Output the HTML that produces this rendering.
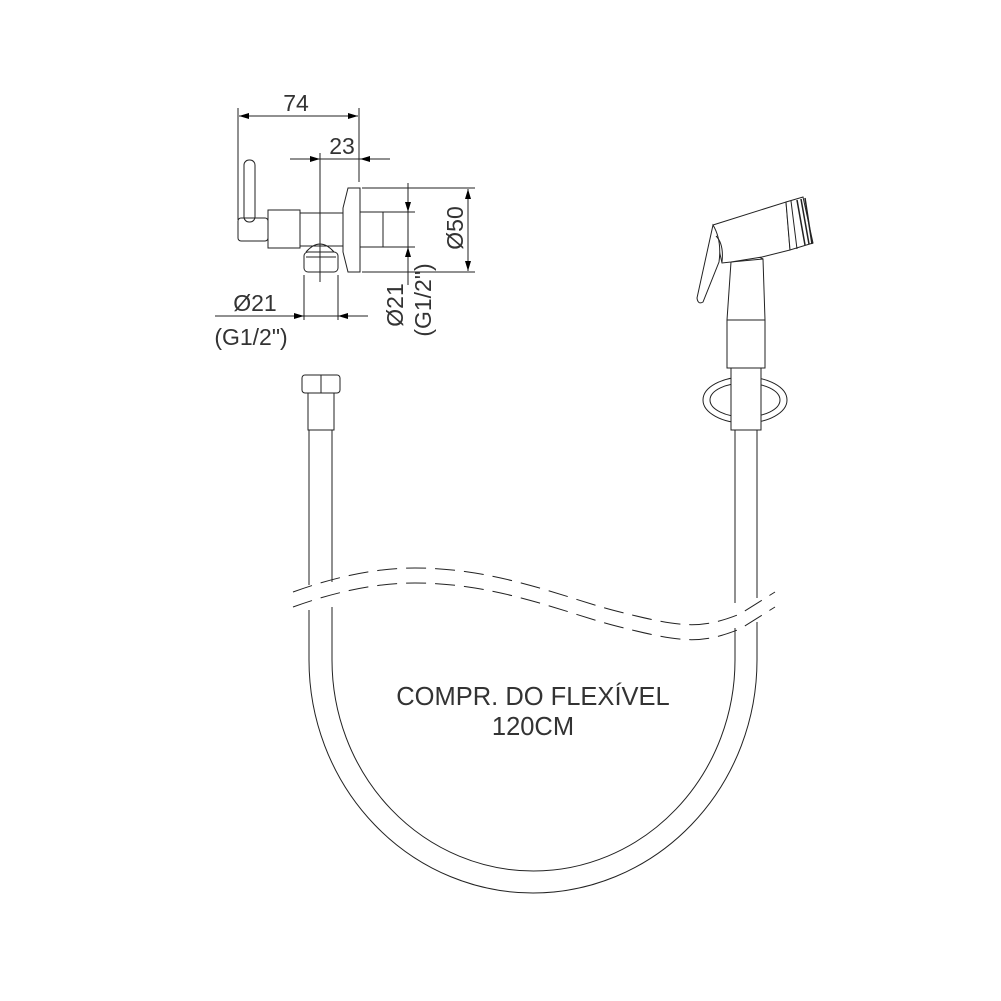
<!DOCTYPE html>
<html><head><meta charset="utf-8"><style>
html,body{margin:0;padding:0;background:#fff;}
svg{display:block;}
text{font-family:"Liberation Sans",sans-serif;fill:#333;}
</style></head><body>
<svg width="1001" height="1001" viewBox="0 0 1001 1001" xmlns="http://www.w3.org/2000/svg">
<defs>
<marker id="a" viewBox="0 0 10 6" refX="10" refY="3" markerWidth="10" markerHeight="6" orient="auto-start-reverse" markerUnits="userSpaceOnUse"><path d="M0,0 L10,3 L0,6Z" fill="#000"/></marker>
</defs>
<g fill="none" stroke="#222" stroke-width="1">
<line x1="238" y1="108" x2="238" y2="220"/>
<line x1="359" y1="108" x2="359" y2="182"/>
<line x1="239" y1="116" x2="358" y2="116" marker-start="url(#a)" marker-end="url(#a)"/>
<line x1="290" y1="159" x2="320" y2="159" marker-end="url(#a)"/>
<line x1="390" y1="159" x2="360" y2="159" marker-end="url(#a)"/>
<line x1="320" y1="159" x2="360" y2="159"/>
<line x1="320" y1="153" x2="320" y2="282"/>
<rect x="244" y="160" width="11" height="62" rx="5"/>
<rect x="238" y="218" width="30" height="23" rx="3"/>
<rect x="268" y="210" width="32" height="38"/>
<rect x="300" y="213" width="43" height="33"/>
<polygon points="348,188 360,188 360,272 348,272 343,252 343,208"/>
<rect x="360" y="212" width="23" height="35"/>
<path d="M306,252 Q320,236 334,252"/>
<rect x="304" y="252" width="34" height="20" rx="4"/>
<line x1="306" y1="257" x2="336" y2="257"/>
<line x1="362" y1="188" x2="475" y2="188"/>
<line x1="362" y1="272" x2="475" y2="272"/>
<line x1="468" y1="189" x2="468" y2="271" marker-start="url(#a)" marker-end="url(#a)"/>
<line x1="383" y1="212" x2="415" y2="212"/>
<line x1="383" y1="247" x2="415" y2="247"/>
<line x1="408" y1="183" x2="408" y2="212" marker-end="url(#a)"/>
<line x1="408" y1="285" x2="408" y2="247" marker-end="url(#a)"/>
<line x1="408" y1="212" x2="408" y2="247"/>
<line x1="304" y1="275" x2="304" y2="320"/>
<line x1="338" y1="275" x2="338" y2="320"/>
<line x1="215" y1="316" x2="304" y2="316" marker-end="url(#a)"/>
<line x1="368" y1="316" x2="338" y2="316" marker-end="url(#a)"/>
<line x1="304" y1="316" x2="338" y2="316"/>
<rect x="302" y="375" width="38" height="18" rx="3"/>
<line x1="321" y1="375" x2="321" y2="393"/>
<rect x="308" y="393" width="26" height="37"/>
<line x1="309" y1="430" x2="309" y2="585"/>
<line x1="332" y1="430" x2="332" y2="582"/>
<line x1="309" y1="610" x2="309" y2="660"/>
<line x1="332" y1="607" x2="332" y2="660"/>
<line x1="735" y1="430" x2="735" y2="603"/>
<line x1="757" y1="430" x2="757" y2="598"/>
<line x1="735" y1="628" x2="735" y2="660"/>
<line x1="757" y1="622" x2="757" y2="660"/>
<path d="M309,660 A224,233 0 0 0 757,660"/>
<path d="M332,660 A201.5,211 0 0 0 735,660"/>
<g stroke-dasharray="20,9">
<path d="M293,592 C340,575 380,568 415,568 C500,568 570,600 620,612 C680,627 700,630 740,614 L775,592"/>
<path d="M293,607 C340,590 380,583 415,583 C500,583 570,615 620,627 C680,642 700,645 740,629 L775,607"/>
</g>
<ellipse cx="745" cy="400" rx="42" ry="23"/>
<ellipse cx="745" cy="400" rx="35" ry="17"/>
<rect x="731" y="368" width="30" height="62" fill="#fff"/>
<rect x="727" y="320" width="38" height="48" fill="#fff"/>
<polygon points="731,262 763,259 765,320 727,320" fill="#fff"/>
<path d="M731,262 Q746,250 763,259"/>
<polygon points="713,225 786,202 790,250 762,257 731,262 722,263 718,245" fill="#fff"/>
<polygon points="786,202 803,197 813,243 790,250" fill="#fff"/>
<line x1="791" y1="201" x2="797" y2="249"/>
<g stroke-width="1.5">
<line x1="797" y1="200" x2="805" y2="245"/>
<line x1="801" y1="199" x2="809" y2="244"/>
<line x1="805" y1="198" x2="812" y2="244"/>
</g>
<path d="M713,225 L697,298 Q698,305 703,302 L719,262 Q722,240 713,225Z" fill="#fff"/>
<path d="M716,236 Q724,244 722,262"/>
</g>
<text x="296" y="111" font-size="23" text-anchor="middle">74</text>
<text x="342" y="154" font-size="23" text-anchor="middle">23</text>
<text x="255" y="311" font-size="23" text-anchor="middle">Ø21</text>
<text x="251" y="345" font-size="23" text-anchor="middle">(G1/2")</text>
<text transform="translate(463,228) rotate(-90)" font-size="23" text-anchor="middle">Ø50</text>
<text transform="translate(403,305) rotate(-90)" font-size="23" text-anchor="middle">Ø21</text>
<text transform="translate(431,300) rotate(-90)" font-size="23" text-anchor="middle">(G1/2")</text>
<text x="533" y="705" font-size="25.5" text-anchor="middle">COMPR. DO FLEXÍVEL</text>
<text x="533" y="735" font-size="25.5" text-anchor="middle">120CM</text>
</svg>
</body></html>
